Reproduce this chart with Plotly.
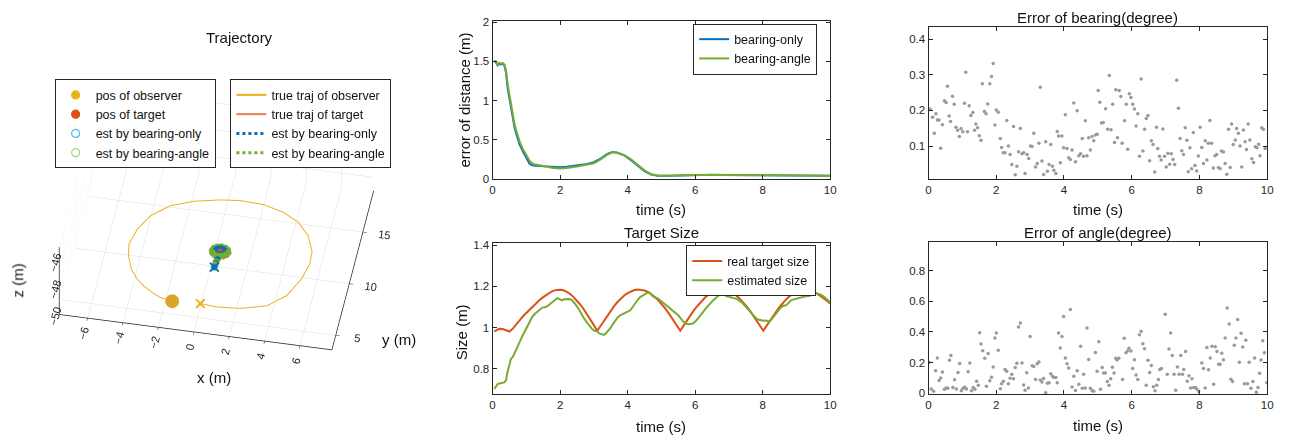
import plotly.graph_objects as go

# ---------------- data ----------------
# 3D trajectory (observer loop at constant altitude)
obs_x = [0.14, 1.09, 2.38, 3.80, 4.74, 5.31, 5.55, 5.49, 5.05, 4.31, 3.35, 2.16, 0.83, -0.26,
         -1.69, -2.90, -3.84, -4.37, -4.61, -4.47, -4.12, -3.65, -3.19, -2.64, -2.12, -1.44]
obs_y = [5.08, 4.96, 5.10, 5.67, 6.86, 8.61, 10.12, 11.34, 12.75, 13.89, 14.64, 15.11, 15.20, 15.02,
         14.57, 13.87, 12.68, 11.27, 9.76, 8.66, 7.45, 6.58, 6.03, 5.52, 5.15, 4.97]
obs_z = [-50.0] * len(obs_x)
obs_pos = [-1.44, 4.97, -50.0]
obs_start = [0.14, 5.08, -50.0]

tgt_x = [0.62, 0.58, 0.47, 0.36, 0.32, 0.36, 0.47, 0.58, 0.62]
tgt_y = [10.20, 10.31, 10.35, 10.31, 10.20, 10.09, 10.05, 10.09, 10.20]
tgt_pos = [0.47, 10.20, -50.0]

bo_x = [0.38, 0.40, 0.43, 0.45, 0.77, 0.73, 0.62, 0.47, 0.32, 0.21, 0.17, 0.21, 0.32, 0.47, 0.62, 0.73, 0.77]
bo_y = [8.66, 9.05, 9.45, 9.80, 10.20, 10.35, 10.46, 10.50, 10.46, 10.35, 10.20, 10.05, 9.94, 9.90, 9.94, 10.05, 10.20]
ba_x = [0.38, 0.39, 0.41, 0.43, 0.92, 0.86, 0.70, 0.47, 0.24, 0.08, 0.02, 0.08, 0.24, 0.47, 0.70, 0.86, 0.92]
ba_y = [8.66, 8.90, 9.20, 9.50, 10.20, 10.42, 10.59, 10.65, 10.59, 10.42, 10.20, 9.98, 9.81, 9.75, 9.81, 9.98, 10.20]
est_start = [0.38, 8.66, -50.0]

# error of distance
t_dist = [0.05, 0.1, 0.15, 0.2, 0.25, 0.3, 0.35, 0.4, 0.45, 0.5, 0.55, 0.6, 0.65, 0.7, 0.8, 0.9, 1.0,
          1.1, 1.2, 1.4, 1.6, 1.8, 2.0, 2.2, 2.5, 2.8, 3.0, 3.2, 3.4, 3.55, 3.7, 3.9, 4.1, 4.3,
          4.5, 4.7, 4.9, 5.2, 5.5, 6.0, 6.5, 7.0, 7.5, 8.0, 8.5, 9.0, 9.5, 10.0]
dist_bo = [1.50, 1.49, 1.45, 1.47, 1.46, 1.47, 1.45, 1.35, 1.15, 1.02, 0.90, 0.76, 0.66, 0.58, 0.44,
           0.35, 0.27, 0.19, 0.17, 0.165, 0.16, 0.15, 0.15, 0.155, 0.17, 0.19, 0.215, 0.26, 0.32,
           0.345, 0.335, 0.30, 0.24, 0.17, 0.10, 0.055, 0.04, 0.04, 0.045, 0.05, 0.055, 0.05,
           0.048, 0.045, 0.045, 0.042, 0.035, 0.04]
dist_ba = [1.51, 1.50, 1.46, 1.48, 1.47, 1.48, 1.46, 1.38, 1.20, 1.06, 0.93, 0.80, 0.70, 0.62, 0.48,
           0.38, 0.30, 0.23, 0.19, 0.17, 0.155, 0.14, 0.135, 0.14, 0.16, 0.18, 0.20, 0.25, 0.31,
           0.34, 0.335, 0.305, 0.25, 0.18, 0.11, 0.06, 0.045, 0.04, 0.045, 0.05, 0.052, 0.05,
           0.047, 0.045, 0.045, 0.043, 0.037, 0.042]

# target size
t_real = [0.05, 0.1, 0.2, 0.3, 0.4, 0.5, 0.6, 0.7, 0.8, 0.9, 1.0, 1.1, 1.2, 1.3, 1.4, 1.5, 1.6, 1.7,
          1.8, 1.9, 2.0, 2.1, 2.2, 2.3, 2.4, 2.5, 2.6, 2.7, 2.8, 2.9, 3.0, 3.1, 3.2, 3.3, 3.4, 3.5,
          3.6, 3.7, 3.8, 3.9, 4.0, 4.1, 4.2, 4.3, 4.4, 4.5, 4.6, 4.7, 4.8, 4.9, 5.0, 5.1, 5.2, 5.3,
          5.4, 5.5, 5.56, 5.6, 5.7, 5.8, 5.9, 6.0, 6.1, 6.2, 6.3, 6.4, 6.5, 6.6, 6.7, 6.8, 6.9, 7.0,
          7.1, 7.2, 7.3, 7.4, 7.5, 7.6, 7.7, 7.8, 7.9, 8.0, 8.02, 8.1, 8.2, 8.3, 8.4, 8.5, 8.6, 8.7,
          8.8, 8.9, 9.0, 9.1, 9.2, 9.3, 9.4, 9.5, 9.6, 9.7, 9.8, 9.9, 10.0]
size_real = [0.982, 0.985, 0.994, 0.993, 0.988, 0.981, 0.995, 1.013, 1.035, 1.055, 1.072, 1.088,
             1.105, 1.120, 1.135, 1.148, 1.160, 1.170, 1.178, 1.183, 1.184, 1.181, 1.173, 1.163,
             1.148, 1.131, 1.111, 1.089, 1.065, 1.039, 1.012, 0.985, 1.010, 1.035, 1.060, 1.083,
             1.104, 1.124, 1.141, 1.156, 1.167, 1.176, 1.182, 1.185, 1.184, 1.180, 1.173, 1.163,
             1.150, 1.134, 1.116, 1.096, 1.074, 1.050, 1.026, 1.000, 0.985, 0.995, 1.021, 1.045,
             1.069, 1.092, 1.112, 1.131, 1.147, 1.161, 1.171, 1.179, 1.184, 1.185, 1.183, 1.178,
             1.170, 1.158, 1.144, 1.127, 1.108, 1.087, 1.064, 1.040, 1.016, 0.990, 0.985, 1.005,
             1.031, 1.055, 1.078, 1.100, 1.120, 1.138, 1.153, 1.165, 1.175, 1.181, 1.185, 1.185,
             1.181, 1.175, 1.166, 1.155, 1.143, 1.130, 1.116]
t_est = [0.05, 0.1, 0.15, 0.2, 0.25, 0.3, 0.35, 0.4, 0.44, 0.5, 0.54, 0.6, 0.64, 0.7, 0.74, 0.8,
         0.88, 0.95, 1.03, 1.1, 1.18, 1.25, 1.33, 1.4, 1.47, 1.55, 1.62, 1.7, 1.77, 1.85, 1.92,
         2.0, 2.06, 2.13, 2.21, 2.28, 2.36, 2.43, 2.5, 2.58, 2.65, 2.72, 2.8, 2.88, 2.95, 3.02,
         3.09, 3.16, 3.24, 3.3, 3.34, 3.42, 3.49, 3.56, 3.63, 3.7, 3.78, 3.85, 3.93, 4.0, 4.08,
         4.15, 4.22, 4.3, 4.37, 4.45, 4.52, 4.58, 4.64, 4.7, 4.76, 4.84, 4.91, 4.98, 5.06, 5.13,
         5.21, 5.28, 5.35, 5.43, 5.5, 5.58, 5.65, 5.72, 5.8, 5.87, 5.94, 6.02, 6.09, 6.16, 6.24,
         6.31, 6.39, 6.46, 6.53, 6.61, 6.68, 6.75, 6.8, 6.87, 6.93, 7.0, 7.07, 7.15, 7.22, 7.3,
         7.37, 7.44, 7.51, 7.59, 7.66, 7.74, 7.81, 7.88, 7.96, 8.03, 8.1, 8.18, 8.25, 8.33, 8.4,
         8.48, 8.55, 8.62, 8.69, 8.77, 8.84, 8.92, 8.99, 9.07, 9.14, 9.21, 9.28, 9.36, 9.43, 9.5,
         9.58, 9.65, 9.72, 9.8, 9.87, 9.94, 10.0]
size_est = [0.702, 0.718, 0.726, 0.729, 0.731, 0.731, 0.734, 0.745, 0.784, 0.820, 0.847, 0.858,
            0.871, 0.895, 0.910, 0.930, 0.958, 0.980, 1.005, 1.030, 1.053, 1.066, 1.076, 1.088,
            1.097, 1.099, 1.103, 1.115, 1.124, 1.135, 1.143, 1.137, 1.132, 1.138, 1.140, 1.139,
            1.132, 1.118, 1.103, 1.082, 1.060, 1.042, 1.024, 1.006, 0.993, 0.985, 0.982, 0.972,
            0.966, 0.965, 0.969, 0.982, 0.997, 1.016, 1.034, 1.048, 1.060, 1.066, 1.069, 1.075,
            1.084, 1.100, 1.119, 1.135, 1.148, 1.157, 1.163, 1.168, 1.171, 1.160, 1.150, 1.145,
            1.140, 1.130, 1.119, 1.110, 1.100, 1.091, 1.084, 1.072, 1.060, 1.044, 1.029, 1.020,
            1.016, 1.017, 1.021, 1.032, 1.045, 1.060, 1.076, 1.092, 1.108, 1.120, 1.132, 1.144,
            1.155, 1.163, 1.167, 1.160, 1.152, 1.150, 1.148, 1.143, 1.140, 1.132, 1.124, 1.112,
            1.100, 1.085, 1.069, 1.056, 1.045, 1.038, 1.034, 1.033, 1.034, 1.030, 1.037, 1.053,
            1.069, 1.085, 1.100, 1.106, 1.108, 1.120, 1.132, 1.137, 1.140, 1.142, 1.148, 1.150,
            1.152, 1.153, 1.155, 1.160, 1.167, 1.165, 1.160, 1.152, 1.143, 1.132, 1.119]

# error of bearing (degree)
t_brg = [0.05, 0.12, 0.17, 0.22, 0.26, 0.31, 0.36, 0.41, 0.47, 0.52, 0.56, 0.61, 0.65, 0.71, 0.76,
         0.81, 0.86, 0.91, 0.96, 1.01, 1.06, 1.10, 1.15, 1.20, 1.25, 1.31, 1.36, 1.40, 1.45, 1.50,
         1.55, 1.59, 1.65, 1.70, 1.75, 1.81, 1.86, 1.91, 1.96, 2.00, 2.06, 2.12, 2.16, 2.21, 2.26,
         2.31, 2.36, 2.41, 2.46, 2.51, 2.56, 2.61, 2.66, 2.71, 2.76, 2.81, 2.85, 2.91, 2.96, 3.01,
         3.06, 3.11, 3.16, 3.21, 3.26, 3.30, 3.35, 3.40, 3.46, 3.51, 3.56, 3.61, 3.66, 3.70, 3.76,
         3.80, 3.84, 3.89, 3.94, 3.99, 4.04, 4.09, 4.14, 4.19, 4.24, 4.29, 4.34, 4.39, 4.44, 4.49,
         4.54, 4.58, 4.63, 4.68, 4.73, 4.78, 4.83, 4.88, 4.93, 4.98, 5.01, 5.06, 5.11, 5.16, 5.23,
         5.29, 5.34, 5.39, 5.44, 5.49, 5.53, 5.58, 5.63, 5.68, 5.72, 5.79, 5.84, 5.88, 5.93, 5.98,
         6.03, 6.08, 6.13, 6.18, 6.23, 6.28, 6.33, 6.38, 6.43, 6.48, 6.53, 6.58, 6.63, 6.68, 6.73,
         6.77, 6.82, 6.87, 6.92, 6.97, 7.02, 7.07, 7.12, 7.17, 7.22, 7.27, 7.33, 7.38, 7.43, 7.48,
         7.53, 7.58, 7.63, 7.67, 7.72, 7.77, 7.82, 7.87, 7.92, 7.97, 8.02, 8.07, 8.12, 8.17, 8.22,
         8.26, 8.31, 8.36, 8.41, 8.46, 8.51, 8.56, 8.61, 8.65, 8.71, 8.76, 8.81, 8.86, 8.91, 8.95,
         9.00, 9.06, 9.10, 9.15, 9.20, 9.25, 9.30, 9.35, 9.39, 9.44, 9.49, 9.55, 9.60, 9.65, 9.70,
         9.75, 9.79, 9.84, 9.89, 9.94]
err_brg = [0.204, 0.181, 0.136, 0.191, 0.173, 0.173, 0.094, 0.160, 0.227, 0.222, 0.268, 0.184,
           0.169, 0.240, 0.217, 0.153, 0.144, 0.127, 0.149, 0.140, 0.220, 0.307, 0.140, 0.213,
           0.186, 0.194, 0.144, 0.162, 0.151, 0.129, 0.116, 0.275, 0.197, 0.191, 0.218, 0.275,
           0.295, 0.332, 0.159, 0.201, 0.195, 0.121, 0.096, 0.081, 0.081, 0.172, 0.100, 0.076,
           0.048, 0.155, 0.019, 0.043, 0.084, 0.149, 0.078, 0.081, 0.023, 0.076, 0.065, 0.100,
           0.099, 0.136, 0.041, 0.051, 0.108, 0.265, 0.058, 0.020, 0.112, 0.029, 0.048, 0.104,
           0.043, 0.032, 0.023, 0.141, 0.128, 0.053, 0.128, 0.095, 0.188, 0.093, 0.067, 0.062,
           0.089, 0.221, 0.056, 0.199, 0.073, 0.078, 0.121, 0.071, 0.171, 0.073, 0.123, 0.089,
           0.127, 0.115, 0.131, 0.133, 0.256, 0.223, 0.165, 0.166, 0.205, 0.147, 0.298, 0.146,
           0.217, 0.110, 0.258, 0.123, 0.256, 0.239, 0.108, 0.171, 0.217, 0.091, 0.247, 0.236,
           0.217, 0.204, 0.156, 0.191, 0.071, 0.288, 0.086, 0.147, 0.177, 0.186, 0.059, 0.115,
           0.104, 0.027, 0.153, 0.093, 0.071, 0.061, 0.148, 0.071, 0.041, 0.080, 0.049, 0.078,
           0.062, 0.048, 0.285, 0.206, 0.121, 0.087, 0.076, 0.151, 0.116, 0.028, 0.095, 0.036,
           0.138, 0.045, 0.030, 0.072, 0.153, 0.096, 0.051, 0.115, 0.061, 0.108, 0.172, 0.108,
           0.038, 0.073, 0.076, 0.040, 0.036, 0.086, 0.083, 0.051, 0.021, 0.147, 0.040, 0.162,
           0.104, 0.117, 0.149, 0.136, 0.100, 0.041, 0.145, 0.112, 0.090, 0.162, 0.117, 0.064,
           0.054, 0.098, 0.095, 0.105, 0.073, 0.151, 0.147, 0.093]

# error of angle (degree)
t_ang = [0.02, 0.08, 0.15, 0.21, 0.26, 0.31, 0.36, 0.41, 0.47, 0.52, 0.57, 0.62, 0.66, 0.72, 0.77,
         0.82, 0.87, 0.92, 0.97, 1.02, 1.07, 1.12, 1.17, 1.22, 1.27, 1.32, 1.37, 1.42, 1.47, 1.51,
         1.55, 1.60, 1.66, 1.71, 1.76, 1.81, 1.86, 1.91, 1.96, 2.00, 2.06, 2.12, 2.16, 2.21, 2.26,
         2.31, 2.36, 2.41, 2.46, 2.51, 2.56, 2.61, 2.66, 2.71, 2.76, 2.81, 2.85, 2.90, 2.95, 3.00,
         3.06, 3.11, 3.16, 3.21, 3.26, 3.30, 3.35, 3.40, 3.46, 3.51, 3.56, 3.61, 3.66, 3.70, 3.76,
         3.80, 3.84, 3.89, 3.94, 3.99, 4.04, 4.09, 4.14, 4.19, 4.24, 4.29, 4.34, 4.39, 4.44, 4.49,
         4.54, 4.58, 4.63, 4.68, 4.73, 4.78, 4.83, 4.88, 4.93, 4.98, 5.03, 5.08, 5.13, 5.17, 5.22,
         5.28, 5.33, 5.38, 5.43, 5.48, 5.53, 5.57, 5.62, 5.73, 5.78, 5.83, 5.88, 5.92, 5.98, 6.03,
         6.08, 6.13, 6.18, 6.23, 6.28, 6.33, 6.38, 6.43, 6.48, 6.53, 6.58, 6.64, 6.69, 6.74, 6.79,
         6.83, 6.88, 6.99, 7.05, 7.10, 7.15, 7.20, 7.25, 7.30, 7.35, 7.40, 7.45, 7.50, 7.54, 7.59,
         7.64, 7.69, 7.74, 7.78, 7.83, 7.88, 7.93, 7.98, 8.07, 8.12, 8.17, 8.22, 8.27, 8.32, 8.37,
         8.42, 8.47, 8.52, 8.57, 8.61, 8.66, 8.71, 8.76, 8.82, 8.88, 8.93, 8.98, 9.03, 9.08, 9.13,
         9.18, 9.23, 9.28, 9.33, 9.37, 9.42, 9.47, 9.52, 9.58, 9.63, 9.68, 9.73, 9.78, 9.82, 9.87,
         9.92, 9.99]
err_ang = [0.200, 0.028, 0.013, 0.147, 0.230, 0.083, 0.100, 0.139, 0.026, 0.035, 0.033, 0.215,
           0.247, 0.037, 0.088, 0.028, 0.136, 0.194, 0.016, 0.033, 0.039, 0.028, 0.141, 0.198,
           0.016, 0.037, 0.026, 0.079, 0.052, 0.395, 0.321, 0.278, 0.228, 0.045, 0.259, 0.081,
           0.105, 0.172, 0.361, 0.393, 0.281, 0.030, 0.062, 0.079, 0.155, 0.143, 0.062, 0.098,
           0.124, 0.094, 0.168, 0.196, 0.433, 0.459, 0.198, 0.054, 0.020, 0.134, 0.035, 0.370,
           0.179, 0.175, 0.090, 0.192, 0.204, 0.086, 0.073, 0.096, 0.003, 0.066, 0.068, 0.128,
           0.111, 0.102, 0.102, 0.068, 0.393, 0.295, 0.370, 0.501, 0.230, 0.192, 0.164, 0.546,
           0.041, 0.111, 0.018, 0.147, 0.058, 0.306, 0.033, 0.124, 0.035, 0.425, 0.221, 0.033,
           0.016, 0.013, 0.266, 0.143, 0.336, 0.026, 0.168, 0.132, 0.132, 0.077, 0.052, 0.094,
           0.170, 0.132, 0.228, 0.217, 0.228, 0.090, 0.359, 0.264, 0.276, 0.293, 0.276, 0.162,
           0.219, 0.119, 0.090, 0.382, 0.404, 0.323, 0.291, 0.052, 0.215, 0.136, 0.181, 0.043,
           0.016, 0.052, 0.090, 0.155, 0.162, 0.516, 0.124, 0.289, 0.393, 0.247, 0.124, 0.020,
           0.172, 0.124, 0.247, 0.124, 0.155, 0.272, 0.079, 0.115, 0.035, 0.094, 0.037, 0.037,
           0.026, 0.009, 0.198, 0.162, 0.035, 0.298, 0.153, 0.230, 0.306, 0.058, 0.304, 0.272,
           0.189, 0.189, 0.261, 0.219, 0.361, 0.556, 0.452, 0.092, 0.077, 0.314, 0.361, 0.482,
           0.202, 0.391, 0.302, 0.062, 0.346, 0.062, 0.202, 0.033, 0.077, 0.230, 0.007, 0.037,
           0.130, 0.217, 0.342, 0.264, 0.068]

# ---------------- style ----------------
C_BLUE = '#0072BD'
C_ORANGE = '#D95319'
C_YELLOW = '#EDB120'
C_GREEN = '#77AC30'
C_LBLUE = '#4DBEEE'
C_GRAY = '#9a9a9a'
AX = '#262626'
FONT = 'Liberation Sans, Arial, sans-serif'

fig = go.Figure()

# ---- 3D trajectory ----
fig.add_trace(go.Scatter3d(x=obs_x, y=obs_y, z=obs_z, mode='lines', line=dict(color=C_YELLOW, width=2),
                           name='true traj of observer', legend='legend2', scene='scene'))
fig.add_trace(go.Scatter3d(x=tgt_x, y=tgt_y, z=[-50.0] * len(tgt_x), mode='lines',
                           line=dict(color='#F07A50', width=2), name='true traj of target',
                           legend='legend2', scene='scene'))
fig.add_trace(go.Scatter3d(x=bo_x[:5], y=bo_y[:5], z=[-50.0] * 5, mode='lines',
                           line=dict(color=C_BLUE, width=3, dash='dot'), name='est by bearing-only',
                           legend='legend2', scene='scene'))
fig.add_trace(go.Scatter3d(x=ba_x[:5], y=ba_y[:5], z=[-50.0] * 5, mode='lines',
                           line=dict(color=C_GREEN, width=3, dash='dot'), name='est by bearing-angle',
                           legend='legend2', scene='scene'))
fig.add_trace(go.Scatter3d(x=ba_x, y=ba_y, z=[-50.0] * len(ba_x), mode='markers',
                           marker=dict(color=C_GREEN, size=4, symbol='circle'), showlegend=False, scene='scene'))
fig.add_trace(go.Scatter3d(x=bo_x, y=bo_y, z=[-50.0] * len(bo_x), mode='markers',
                           marker=dict(color=C_BLUE, size=3.5, symbol='circle'), showlegend=False, scene='scene'))
fig.add_trace(go.Scatter3d(x=[tgt_pos[0]], y=[tgt_pos[1]], z=[tgt_pos[2]], mode='markers',
                           marker=dict(color=C_ORANGE, size=3.5), showlegend=False, scene='scene'))
fig.add_trace(go.Scatter3d(x=[obs_pos[0]], y=[obs_pos[1]], z=[obs_pos[2]], mode='markers',
                           marker=dict(color='#D9A52B', size=8), showlegend=False, scene='scene'))
for sym in ['cross', 'x']:
    fig.add_trace(go.Scatter3d(x=[obs_start[0]], y=[obs_start[1]], z=[obs_start[2]], mode='markers',
                               marker=dict(color=C_YELLOW, size=2.2, symbol=sym), showlegend=False, scene='scene'))
    fig.add_trace(go.Scatter3d(x=[est_start[0]], y=[est_start[1]], z=[est_start[2]], mode='markers',
                               marker=dict(color=C_BLUE, size=2.2, symbol=sym), showlegend=False, scene='scene'))

# legend-only entries for the position markers
for name, col, sym in [('pos of observer', C_YELLOW, 'circle'), ('pos of target', C_ORANGE, 'circle'),
                       ('est by bearing-only', C_LBLUE, 'circle-open'),
                       ('est by bearing-angle', '#A8D080', 'circle-open')]:
    fig.add_trace(go.Scatter(x=[None], y=[None], mode='markers', name=name, legend='legend',
                             marker=dict(color=col, size=8, symbol=sym, line=dict(width=1.2, color=col)),
                             xaxis='x', yaxis='y'))

# ---- error of distance ----
fig.add_trace(go.Scatter(x=t_dist, y=dist_bo, mode='lines', line=dict(color=C_BLUE, width=2),
                         name='bearing-only', legend='legend3', xaxis='x', yaxis='y'))
fig.add_trace(go.Scatter(x=t_dist, y=dist_ba, mode='lines', line=dict(color=C_GREEN, width=2),
                         name='bearing-angle', legend='legend3', xaxis='x', yaxis='y'))

# ---- target size ----
fig.add_trace(go.Scatter(x=t_real, y=size_real, mode='lines', line=dict(color=C_ORANGE, width=2),
                         name='real target size', legend='legend4', xaxis='x2', yaxis='y2'))
fig.add_trace(go.Scatter(x=t_est, y=size_est, mode='lines', line=dict(color=C_GREEN, width=2),
                         name='estimated size', legend='legend4', xaxis='x2', yaxis='y2'))

# ---- errors (scatter) ----
fig.add_trace(go.Scatter(x=t_brg, y=err_brg, mode='markers', marker=dict(color=C_GRAY, size=3.5),
                         showlegend=False, xaxis='x3', yaxis='y3'))
fig.add_trace(go.Scatter(x=t_ang, y=err_ang, mode='markers', marker=dict(color=C_GRAY, size=3.5),
                         showlegend=False, xaxis='x4', yaxis='y4'))

def ax2d(domain, rng, dtick, anchor):
    return dict(domain=domain, range=rng, dtick=dtick, anchor=anchor, showline=True, linecolor=AX,
                linewidth=1, mirror='allticks', ticks='inside', ticklen=4, tickcolor=AX,
                tickfont=dict(size=11.5, color=AX, family=FONT), showgrid=False, zeroline=False)

XM = [493 / 1293, 833 / 1293]
XR = [932 / 1293, 1273 / 1293]

def scene_axis(rng, vals):
    return dict(range=rng, tickvals=vals, title=dict(text=''),
                showbackground=False, gridcolor='#dedede', gridwidth=1, showline=True, linecolor=AX,
                linewidth=1.5, zeroline=False, ticks='outside', ticklen=4, tickcolor=AX,
                tickfont=dict(size=11.5, color=AX), showspikes=False)

S = 1.54
LEG = dict(xanchor='left', yanchor='top', bgcolor='white', bordercolor=AX, borderwidth=1,
           font=dict(size=12.5, color='#111'), tracegroupgap=0)
fig.update_layout(
    width=1293, height=444, margin=dict(l=0, r=0, t=0, b=0),
    paper_bgcolor='white', plot_bgcolor='white',
    font=dict(family=FONT, color=AX),
    xaxis=ax2d(XM, [0, 10], 2, 'y'),
    yaxis=ax2d([1 - 179 / 444, 1 - 17 / 444], [0, 2.02], 0.5, 'x'),
    xaxis2=ax2d(XM, [0, 10], 2, 'y2'),
    yaxis2=ax2d([1 - 399 / 444, 1 - 245 / 444], [0.678, 1.408], 0.2, 'x2'),
    xaxis3=ax2d(XR, [0, 10], 2, 'y3'),
    yaxis3=ax2d([1 - 179 / 444, 1 - 24 / 444], [0.0075, 0.433], 0.1, 'x3'),
    xaxis4=ax2d(XR, [0, 10], 2, 'y4'),
    yaxis4=ax2d([1 - 399 / 444, 1 - 243 / 444], [-0.005, 0.99], 0.2, 'x4'),
    scene=dict(
        domain=dict(x=[0.0, 0.3326], y=[1 - 404 / 444, 1 - 36 / 444]),
        xaxis=scene_axis([-7.6, 7.8], [-6, -4, -2, 0, 2, 4, 6]),
        yaxis=scene_axis([3.6, 19], [5, 10, 15]),
        zaxis=scene_axis([-51, -46], [-50, -48, -46]),
        aspectmode='manual', aspectratio=dict(x=1 * S, y=0.83 * S, z=0.341 * S),
        camera=dict(eye=dict(x=0.129 * 2, y=-0.699 * 2, z=0.703 * 2), up=dict(x=0, y=0, z=1),
                    center=dict(x=0, y=0, z=0), projection=dict(type='orthographic')),
        bgcolor='rgba(0,0,0,0)'),
    legend=dict(x=52 / 1293, y=1 - 77 / 444, **LEG),
    legend2=dict(x=229 / 1293, y=1 - 77 / 444, **LEG),
    legend3=dict(x=695 / 1293, y=1 - 20 / 444, **LEG),
    legend4=dict(x=688 / 1293, y=1 - 247 / 444, **LEG),
)

def ann(text, x, y, size=15, angle=0):
    fig.add_annotation(text=text, x=x, y=y, xref='paper', yref='paper', showarrow=False,
                       xanchor='center', yanchor='middle', textangle=angle,
                       font=dict(size=size, color='#111', family=FONT))

ann('Trajectory', 238 / 1293, 1 - 34 / 444)
ann('x (m)', 212 / 1293, 1 - 382 / 444)
ann('y (m)', 399 / 1293, 1 - 343 / 444)
ann('z (m)', 15 / 1293, 1 - 283 / 444, angle=-90)
ann('time (s)', 663 / 1293, 1 - 210 / 444)
ann('time (s)', 663 / 1293, 1 - 432 / 444)
ann('time (s)', 1102.5 / 1293, 1 - 210 / 444)
ann('time (s)', 1102.5 / 1293, 1 - 431 / 444)
ann('error of distance (m)', 465 / 1293, 1 - 98 / 444, angle=-90)
ann('Size (m)', 462 / 1293, 1 - 336 / 444, angle=-90)
ann('Target Size', 663 / 1293, 1 - 234 / 444)
ann('Error of bearing(degree)', 1102.5 / 1293, 1 - 14 / 444)
ann('Error of angle(degree)', 1102.5 / 1293, 1 - 234 / 444)

fig.write_html('out.html')
